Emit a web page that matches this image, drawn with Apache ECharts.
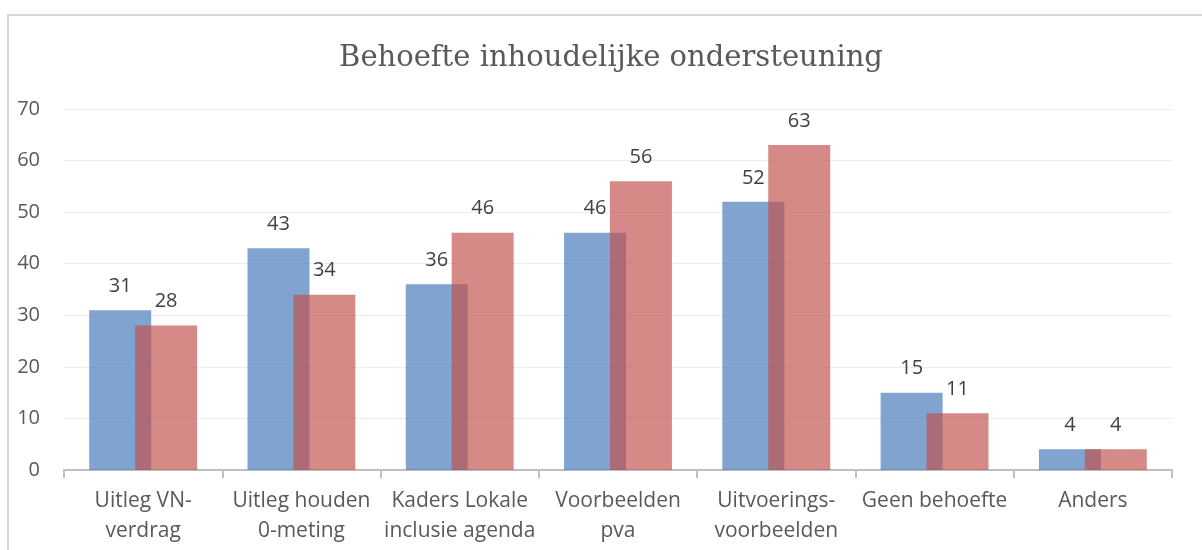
<!DOCTYPE html>
<html>
<head>
<meta charset="utf-8">
<script src="https://cdn.jsdelivr.net/npm/echarts@6/dist/echarts.min.js"></script>
<style>
html,body{margin:0;padding:0;background:#fff;}
#chart{width:1202px;height:550px;}
</style>
</head>
<body>
<div id="chart"></div>
<script>
const categories = [
  "Uitleg VN-\nverdrag",
  "Uitleg houden\n0-meting",
  "Kaders Lokale\ninclusie agenda",
  "Voorbeelden\npva",
  "Uitvoerings-\nvoorbeelden",
  "Geen behoefte",
  "Anders"
];
const seriesBlue = [31, 43, 36, 46, 52, 15, 4];
const seriesRed = [28, 34, 46, 56, 63, 11, 4];
const yTicks = [0, 10, 20, 30, 40, 50, 60, 70];
const titleText = "Behoefte inhoudelijke ondersteuning";

const chart = echarts.init(document.getElementById('chart'), null, {renderer: 'canvas'});
const labelFont = '"Open Sans", "Noto Sans", sans-serif';
const barLabel = {
  show: true,
  position: 'top',
  distance: 14,
  color: '#404040',
  fontFamily: labelFont,
  fontSize: 20
};
chart.setOption({
  animation: false,
  backgroundColor: '#ffffff',
  title: {
    text: titleText,
    left: 606,
    top: 39,
    textAlign: 'center',
    textStyle: {
      fontFamily: '"DejaVu Serif", serif',
      fontWeight: 'normal',
      fontSize: 29,
      color: '#595959'
    }
  },
  graphic: [{
    type: 'rect',
    z: -10,
    silent: true,
    shape: {x: 8, y: 15, width: 1400, height: 700},
    style: {fill: 'none', stroke: '#d9d9d9', lineWidth: 2}
  }],
  grid: {left: 64, right: 30, top: 109, bottom: 80, containLabel: false, outerBoundsMode: 'none'},
  xAxis: {
    type: 'category',
    data: categories,
    axisLine: {show: true, lineStyle: {color: '#bfbfbf', width: 2}},
    axisTick: {show: true, length: 8, alignWithLabel: false, lineStyle: {color: '#bfbfbf', width: 2}},
    axisLabel: {
      interval: 0,
      margin: 16,
      lineHeight: 30,
      color: '#595959',
      fontFamily: labelFont,
      fontSize: 21
    }
  },
  yAxis: {
    type: 'value',
    min: yTicks[0],
    max: yTicks[yTicks.length - 1],
    interval: 10,
    axisLine: {show: false},
    axisTick: {show: false},
    splitLine: {lineStyle: {color: '#ececec', width: 1}},
    axisLabel: {
      margin: 24,
      color: '#595959',
      fontFamily: labelFont,
      fontSize: 20
    }
  },
  series: [
    {
      name: 'Reeks 1',
      type: 'bar',
      data: seriesBlue,
      barWidth: 62,
      barGap: '-26%',
      itemStyle: {color: 'rgba(79,129,189,0.72)'},
      label: barLabel
    },
    {
      name: 'Reeks 2',
      type: 'bar',
      data: seriesRed,
      barWidth: 62,
      barGap: '-26%',
      itemStyle: {color: 'rgba(192,80,77,0.67)'},
      label: barLabel
    }
  ]
});
</script>
</body>
</html>
